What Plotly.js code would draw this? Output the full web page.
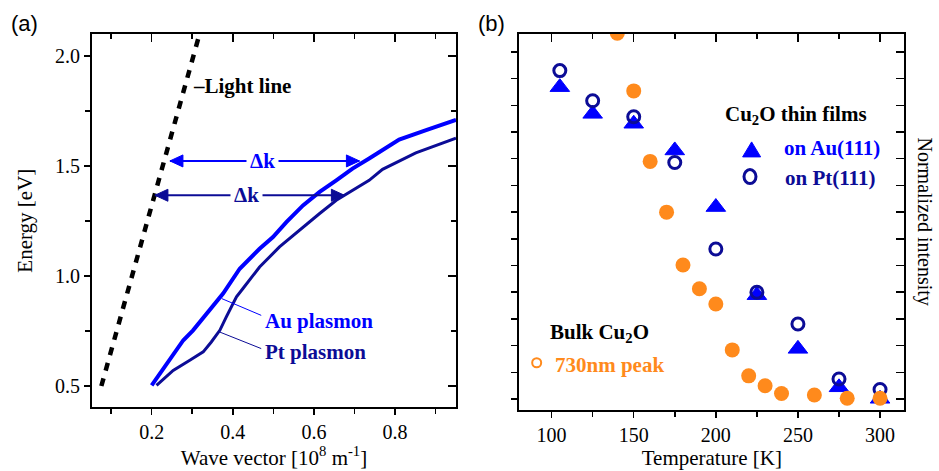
<!DOCTYPE html>
<html><head><meta charset="utf-8">
<script src="https://cdn.plot.ly/plotly-3.0.1.min.js"></script>
<style>html,body{margin:0;padding:0;background:#fff}</style>
</head><body><div id="chart" style="width:939px;height:471px"></div>
<script>
// Panel (a): dispersion
const lightK = [0.076, 0.318];
const lightE = [0.50, 2.10];
const auK = [0.200, 0.245, 0.278, 0.302, 0.335, 0.376, 0.417, 0.466, 0.499, 0.532, 0.573, 0.614, 0.655, 0.695, 0.736, 0.810, 0.880, 0.950];
const auE = [0.503, 0.617, 0.708, 0.753, 0.829, 0.920, 1.033, 1.124, 1.177, 1.245, 1.321, 1.382, 1.435, 1.488, 1.534, 1.620, 1.665, 1.710];
const ptK = [0.212, 0.253, 0.294, 0.327, 0.347, 0.368, 0.384, 0.409, 0.425, 0.466, 0.515, 0.573, 0.614, 0.655, 0.695, 0.736, 0.769, 0.851, 0.950];
const ptE = [0.503, 0.571, 0.617, 0.655, 0.700, 0.753, 0.814, 0.905, 0.943, 1.041, 1.132, 1.223, 1.284, 1.344, 1.390, 1.435, 1.485, 1.560, 1.626];
// Panel (b): temperature dependence
const tBulk = [140, 150, 160, 170, 180, 190, 200, 210, 220, 230, 240, 260, 280, 300];
const iBulk = [1.37, 1.154, 0.890, 0.700, 0.502, 0.413, 0.356, 0.184, 0.087, 0.050, 0.021, 0.015, 0.003, 0.003];
const tFilm = [105, 125, 150, 175, 200, 225, 250, 275, 300];
const iAu = [1.168, 1.068, 1.031, 0.931, 0.719, 0.389, 0.188, 0.044, 0.001];
const iPt = [1.230, 1.117, 1.057, 0.886, 0.562, 0.400, 0.281, 0.075, 0.036];

const BLUE = '#0000ff', NAVY = '#0c0c96', ORANGE = '#ff8a1c';
const SERIF = 'Liberation Serif, Times New Roman, serif';
const tickFont = {family: SERIF, size: 20, color: '#000'};
const titleFont = {family: SERIF, size: 21, color: '#000'};
const LBL = 21;

const traces = [
  {x: lightK, y: lightE, xaxis: 'x', yaxis: 'y', mode: 'lines', line: {color: '#000', width: 4.5, dash: '8px,8px'}, name: 'Light line'},
  {x: auK, y: auE, xaxis: 'x', yaxis: 'y', mode: 'lines', line: {color: BLUE, width: 4}, name: 'Au plasmon'},
  {x: ptK, y: ptE, xaxis: 'x', yaxis: 'y', mode: 'lines', line: {color: NAVY, width: 3}, name: 'Pt plasmon'},
  {x: tFilm, y: iAu, xaxis: 'x2', yaxis: 'y2', mode: 'markers', marker: {symbol: 'triangle-up', size: 17, color: BLUE, line: {color: BLUE, width: 1}}, name: 'on Au(111)'},
  {x: tFilm, y: iPt, xaxis: 'x2', yaxis: 'y2', mode: 'markers', marker: {symbol: 'circle-open', size: 12, color: NAVY, line: {color: NAVY, width: 3}}, name: 'on Pt(111)'},
  {x: tBulk, y: iBulk, xaxis: 'x2', yaxis: 'y2', mode: 'markers', marker: {symbol: 'circle', size: 15, color: ORANGE}, name: '730nm peak'},
  {x: [null], y: [null], xaxis: 'x3', yaxis: 'y3', mode: 'markers', hoverinfo: 'skip'},
  {x: [null], y: [null], xaxis: 'x4', yaxis: 'y4', mode: 'markers', hoverinfo: 'skip'}
];

const frame = {showline: true, linecolor: '#000', linewidth: 2, mirror: true, showgrid: false, zeroline: false,
  ticks: 'outside', ticklen: 6, tickwidth: 1.5, tickcolor: '#000', tickfont: tickFont};
const inner = {showline: false, showgrid: false, zeroline: false, ticks: 'inside', ticklen: 8, tickwidth: 1.5,
  tickcolor: '#000', showticklabels: false};

const xa = [0.053, 0.95], ya = [0.403, 2.1], xb = [80.3, 314.8], yb = [-0.041, 1.367];

// Δk arrows and pointer lines (annotation geometry)
const arrowUp = {y: 1.523, x0: 0.245, x1: 0.712};
const arrowLo = {y: 1.367, x0: 0.208, x1: 0.675};
function dblArrow(a, color) {
  return [
    {type: 'line', xref: 'x', yref: 'y', x0: a.x0, x1: a.x1, y0: a.y, y1: a.y, line: {color: color, width: 2}},
    {type: 'path', xref: 'x', yref: 'y', xsizemode: 'pixel', ysizemode: 'pixel', xanchor: a.x0, yanchor: a.y,
      path: 'M 0 0 L 13 6 L 13 -6 Z', fillcolor: color, line: {color: color, width: 1}},
    {type: 'path', xref: 'x', yref: 'y', xsizemode: 'pixel', ysizemode: 'pixel', xanchor: a.x1, yanchor: a.y,
      path: 'M 0 0 L -13 6 L -13 -6 Z', fillcolor: color, line: {color: color, width: 1}}
  ];
}

const layout = {
  width: 939, height: 471, margin: {l: 0, r: 0, t: 0, b: 0},
  paper_bgcolor: '#fff', plot_bgcolor: '#fff', showlegend: false,
  xaxis: Object.assign({}, frame, {domain: [0.0980, 0.4856], range: xa, anchor: 'y', dtick: 0.2, tick0: 0, tickformat: '.1f',
    minor: {dtick: 0.1, ticks: 'outside', ticklen: 5, tickwidth: 1.5, tickcolor: '#000'},
    title: {text: 'Wave vector [10<sup>8</sup> m<sup>-1</sup>]', font: titleFont, standoff: 5}}),
  yaxis: Object.assign({}, frame, {domain: [0.1352, 0.9278], range: ya, anchor: 'x', dtick: 0.5, tick0: 0, tickformat: '.1f',
    minor: {dtick: 0.25, ticks: 'outside', ticklen: 5, tickwidth: 1.5, tickcolor: '#000'},
    title: {text: 'Energy [eV]', font: titleFont, standoff: 17}}),
  xaxis3: Object.assign({}, inner, {overlaying: 'x', side: 'top', anchor: 'y3', range: xa, dtick: 0.2, tick0: 0,
    minor: {dtick: 0.1, ticks: 'inside', ticklen: 5, tickwidth: 1.5, tickcolor: '#000'}}),
  yaxis3: Object.assign({}, inner, {overlaying: 'y', side: 'right', anchor: 'x3', range: ya, dtick: 0.5, tick0: 0,
    minor: {dtick: 0.25, ticks: 'inside', ticklen: 5, tickwidth: 1.5, tickcolor: '#000'}}),
  xaxis2: Object.assign({}, frame, {domain: [0.5530, 0.9631], range: xb, anchor: 'y2', dtick: 50, tick0: 0,
    minor: {dtick: 25, ticks: 'outside', ticklen: 5, tickwidth: 1.5, tickcolor: '#000'},
    title: {text: 'Temperature [K]', font: titleFont, standoff: 5}}),
  yaxis2: Object.assign({}, frame, {domain: [0.1295, 0.9278], range: yb, anchor: 'x2', dtick: 0.1, tick0: 0, showticklabels: false}),
  xaxis4: Object.assign({}, inner, {overlaying: 'x2', side: 'top', anchor: 'y4', range: xb, dtick: 50, tick0: 0,
    minor: {dtick: 25, ticks: 'inside', ticklen: 5, tickwidth: 1.5, tickcolor: '#000'}}),
  yaxis4: Object.assign({}, inner, {overlaying: 'y2', side: 'right', anchor: 'x4', range: yb, dtick: 0.1, tick0: 0}),
  annotations: [
    {xref: 'paper', yref: 'paper', x: 9 / 939, y: 1 - 24 / 471, xanchor: 'left', yanchor: 'middle', showarrow: false,
      text: '(a)', font: {family: 'Liberation Sans, Arial, sans-serif', size: 22, color: '#000'}},
    {xref: 'paper', yref: 'paper', x: 476 / 939, y: 1 - 24 / 471, xanchor: 'left', yanchor: 'middle', showarrow: false,
      text: '(b)', font: {family: 'Liberation Sans, Arial, sans-serif', size: 22, color: '#000'}},
    {xref: 'paper', yref: 'paper', x: 938 / 939, y: 1 - 221 / 471, xanchor: 'right', yanchor: 'middle', showarrow: false,
      textangle: 90, text: 'Normalized intensity', font: {family: SERIF, size: 20, color: '#000'}},
    // panel a labels
    {xref: 'x', yref: 'y', x: 0.298, y: 1.864, xanchor: 'left', yanchor: 'middle', showarrow: false,
      text: '<b>–Light line</b>', font: {family: SERIF, size: LBL, color: '#000'}},
    {xref: 'x', yref: 'y', x: 0.473, y: arrowUp.y, xanchor: 'center', yanchor: 'middle', showarrow: false, bgcolor: '#fff',
      borderpad: 3, text: '<b>Δk</b>', font: {family: SERIF, size: LBL, color: BLUE}},
    {xref: 'x', yref: 'y', x: 0.433, y: arrowLo.y, xanchor: 'center', yanchor: 'middle', showarrow: false, bgcolor: '#fff',
      borderpad: 3, text: '<b>Δk</b>', font: {family: SERIF, size: LBL, color: NAVY}},
    {xref: 'x', yref: 'y', x: 0.474, y: 0.795, xanchor: 'left', yanchor: 'middle', showarrow: false,
      text: '<b>Au plasmon</b>', font: {family: SERIF, size: LBL, color: BLUE}},
    {xref: 'x', yref: 'y', x: 0.474, y: 0.653, xanchor: 'left', yanchor: 'middle', showarrow: false,
      text: '<b>Pt plasmon</b>', font: {family: SERIF, size: LBL, color: NAVY}},
    // panel b labels
    {xref: 'x2', yref: 'y2', x: 204.1, y: 1.064, xanchor: 'left', yanchor: 'middle', showarrow: false,
      text: '<b>Cu<sub>2</sub>O thin films</b>', font: {family: SERIF, size: LBL, color: '#000'}},
    {xref: 'x2', yref: 'y2', x: 240.1, y: 0.939, xanchor: 'left', yanchor: 'middle', showarrow: false,
      text: '<b>on Au(111)</b>', font: {family: SERIF, size: LBL, color: BLUE}},
    {xref: 'x2', yref: 'y2', x: 240.7, y: 0.827, xanchor: 'left', yanchor: 'middle', showarrow: false,
      text: '<b>on Pt(111)</b>', font: {family: SERIF, size: LBL, color: NAVY}},
    {xref: 'x2', yref: 'y2', x: 97.9, y: 0.246, xanchor: 'left', yanchor: 'middle', showarrow: false,
      text: '<b>Bulk Cu<sub>2</sub>O</b>', font: {family: SERIF, size: LBL, color: '#000'}},
    {xref: 'x2', yref: 'y2', x: 101, y: 0.127, xanchor: 'left', yanchor: 'middle', showarrow: false,
      text: '<b>730nm peak</b>', font: {family: SERIF, size: LBL, color: ORANGE}}
  ],
  shapes: [].concat(
    dblArrow(arrowUp, BLUE),
    dblArrow(arrowLo, NAVY),
    [
      {type: 'line', xref: 'x', yref: 'y', x0: 0.373, y0: 0.897, x1: 0.470, y1: 0.821, line: {color: BLUE, width: 1}},
      {type: 'line', xref: 'x', yref: 'y', x0: 0.368, y0: 0.745, x1: 0.470, y1: 0.670, line: {color: NAVY, width: 1}},
      {type: 'path', xref: 'x2', yref: 'y2', xsizemode: 'pixel', ysizemode: 'pixel', xanchor: 221.8, yanchor: 0.933,
        path: 'M -9 -7 L 9 -7 L 0 8 Z', fillcolor: BLUE, line: {color: BLUE, width: 1}},
      {type: 'circle', xref: 'x2', yref: 'y2', xsizemode: 'pixel', ysizemode: 'pixel', xanchor: 220.8, yanchor: 0.833,
        x0: -6, x1: 6, y0: -7, y1: 7, line: {color: NAVY, width: 3}},
      {type: 'circle', xref: 'x2', yref: 'y2', xsizemode: 'pixel', ysizemode: 'pixel', xanchor: 90.9, yanchor: 0.136,
        x0: -4.5, x1: 4.5, y0: -4.5, y1: 4.5, line: {color: ORANGE, width: 2}}
    ])
};

Plotly.newPlot('chart', traces, layout, {staticPlot: true, displayModeBar: false});
</script></body></html>
